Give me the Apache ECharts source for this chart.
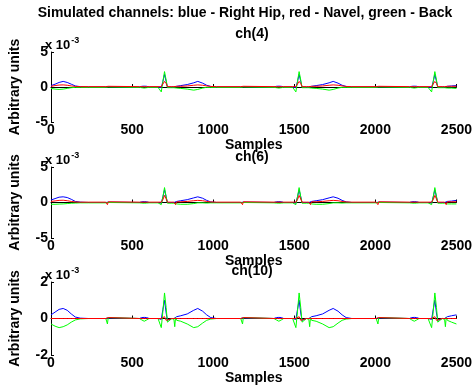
<!DOCTYPE html>
<html>
<head>
<meta charset="utf-8">
<script src="https://cdn.jsdelivr.net/npm/echarts@6/dist/echarts.min.js"></script>
<style>html,body{margin:0;padding:0;background:#fff}#c{width:475px;height:391px}</style>
</head>
<body>
<div id="c"></div>
<script>
// Sample positions shared by all traces (values in units of 1e-3)
const X = [
  0, 25, 50, 75, 100, 125, 150, 180, 230,
  338, 343, 348, 353, 360,
  545, 560, 575, 590, 605,
  660, 680, 690, 700, 710, 718, 728, 745, 758, 763, 768, 775,
  800, 840, 880, 905, 935, 960, 985, 1020,
  1170, 1176, 1181, 1186, 1193,
  1375, 1390, 1405, 1420, 1435,
  1490, 1510, 1520, 1530, 1540, 1548, 1558, 1575, 1590, 1595, 1600, 1607,
  1635, 1675, 1715, 1740, 1770, 1795, 1820, 1855,
  2005, 2011, 2016, 2021, 2028,
  2210, 2225, 2240, 2255, 2270,
  2325, 2347, 2357, 2367, 2377, 2385, 2395, 2412, 2427, 2432, 2437, 2444,
  2470, 2500
];

// ch(4)
const ch4Blue = [
  0.2, 0.4, 0.65, 0.8, 0.65, 0.4, 0.15, 0.05, 0,
  0, 0.1, -0.1, 0.05, 0,
  0, 0.1, 0.12, 0.1, 0,
  0, -0.1, 0.8, 1.8, 0.8, 0, -0.1, 0, 0, 0.1, -0.05, 0.1,
  0.2, 0.35, 0.6, 0.8, 0.55, 0.25, 0.08, 0,
  0, 0.1, -0.1, 0.05, 0,
  0, 0.1, 0.12, 0.1, 0,
  0, -0.1, 0.8, 1.8, 0.8, 0, -0.1, 0, 0, 0.1, -0.05, 0.1,
  0.2, 0.35, 0.6, 0.8, 0.55, 0.25, 0.08, 0,
  0, 0.1, -0.1, 0.05, 0,
  0, 0.1, 0.12, 0.1, 0,
  0, -0.1, 0.8, 1.8, 0.8, 0, -0.1, 0, 0, 0.1, -0.05, 0.1,
  0.15, 0.2
];
const ch4Green = [
  -0.2, -0.3, -0.35, -0.3, -0.2, -0.1, -0.05, -0.05, -0.05,
  -0.05, 0.1, -0.2, 0, -0.05,
  -0.05, -0.1, -0.15, -0.1, -0.05,
  -0.05, -0.7, 0.8, 2.2, 1.0, -0.1, -0.15, -0.1, -0.1, -0.3, 0, -0.15,
  -0.2, -0.3, -0.45, -0.35, -0.15, -0.05, -0.05, -0.05,
  -0.05, 0.1, -0.2, 0, -0.05,
  -0.05, -0.1, -0.15, -0.1, -0.05,
  -0.05, -0.7, 0.8, 2.2, 1.0, -0.1, -0.15, -0.1, -0.1, -0.3, 0, -0.15,
  -0.2, -0.3, -0.45, -0.35, -0.15, -0.05, -0.05, -0.05,
  -0.05, 0.1, -0.2, 0, -0.05,
  -0.05, -0.1, -0.15, -0.1, -0.05,
  -0.05, -0.7, 0.8, 2.2, 1.0, -0.1, -0.15, -0.1, -0.1, -0.3, 0, -0.15,
  -0.15, -0.2
];
const ch4Red = [
  0.1, 0.2, 0.28, 0.3, 0.25, 0.15, 0.08, 0.05, 0.05,
  0.05, 0.2, -0.15, 0.1, 0.05,
  0.05, 0.05, 0.05, 0.05, 0.05,
  0.05, 0.05, 0.3, 0.8, 0.5, 0.05, 0, 0.05, 0.05, 0.2, -0.15, 0.1,
  0.1, 0.15, 0.25, 0.3, 0.25, 0.15, 0.08, 0.05,
  0.05, 0.2, -0.15, 0.1, 0.05,
  0.05, 0.05, 0.05, 0.05, 0.05,
  0.05, 0.05, 0.3, 0.8, 0.5, 0.05, 0, 0.05, 0.05, 0.2, -0.15, 0.1,
  0.1, 0.15, 0.25, 0.3, 0.25, 0.15, 0.08, 0.05,
  0.05, 0.2, -0.15, 0.1, 0.05,
  0.05, 0.05, 0.05, 0.05, 0.05,
  0.05, 0.05, 0.3, 0.8, 0.5, 0.05, 0, 0.05, 0.05, 0.2, -0.15, 0.1,
  0.1, 0.1
];

// ch(6)
const ch6Blue = [
  0.35, 0.55, 0.75, 0.8, 0.7, 0.45, 0.15, 0.05, 0,
  0, 0.1, -0.1, 0.05, 0,
  0, 0.1, 0.12, 0.1, 0,
  0, -0.1, 0.8, 1.8, 0.8, 0, -0.1, 0, 0, 0.1, -0.05, 0.15,
  0.25, 0.4, 0.65, 0.8, 0.6, 0.3, 0.08, 0,
  0, 0.1, -0.1, 0.05, 0,
  0, 0.1, 0.12, 0.1, 0,
  0, -0.1, 0.8, 1.8, 0.8, 0, -0.1, 0, 0, 0.1, -0.05, 0.15,
  0.25, 0.4, 0.65, 0.8, 0.6, 0.3, 0.08, 0,
  0, 0.1, -0.1, 0.05, 0,
  0, 0.1, 0.12, 0.1, 0,
  0, -0.1, 0.8, 1.8, 0.8, 0, -0.1, 0, 0, 0.1, -0.05, 0.15,
  0.2, 0.3
];
const ch6Green = [
  -0.25, -0.25, -0.22, -0.2, -0.15, -0.1, -0.08, -0.05, -0.05,
  -0.05, 0.05, -0.2, 0, -0.05,
  -0.05, -0.08, -0.1, -0.08, -0.05,
  -0.05, -0.3, 0.8, 2.1, 0.8, -0.1, -0.15, -0.1, -0.1, -0.3, 0, -0.2,
  -0.25, -0.25, -0.15, -0.05, -0.05, -0.08, -0.05, -0.05,
  -0.05, 0.05, -0.2, 0, -0.05,
  -0.05, -0.08, -0.1, -0.08, -0.05,
  -0.05, -0.3, 0.8, 2.1, 0.8, -0.1, -0.15, -0.1, -0.1, -0.3, 0, -0.2,
  -0.25, -0.25, -0.15, -0.05, -0.05, -0.08, -0.05, -0.05,
  -0.05, 0.05, -0.2, 0, -0.05,
  -0.05, -0.08, -0.1, -0.08, -0.05,
  -0.05, -0.3, 0.8, 2.1, 0.8, -0.1, -0.15, -0.1, -0.1, -0.3, 0, -0.2,
  -0.2, -0.2
];
const ch6Red = [
  0.15, 0.22, 0.3, 0.32, 0.25, 0.15, 0.08, 0.05, 0.05,
  0.05, 0.1, -0.3, 0.1, 0.05,
  0.05, 0.05, 0.05, 0.05, 0.05,
  0.05, 0.05, 0.4, 1.0, 0.5, 0.05, 0, 0.05, 0.05, 0.1, -0.3, 0.1,
  0.1, 0.15, 0.25, 0.3, 0.25, 0.15, 0.08, 0.05,
  0.05, 0.1, -0.3, 0.1, 0.05,
  0.05, 0.05, 0.05, 0.05, 0.05,
  0.05, 0.05, 0.4, 1.0, 0.5, 0.05, 0, 0.05, 0.05, 0.1, -0.3, 0.1,
  0.1, 0.15, 0.25, 0.3, 0.25, 0.15, 0.08, 0.05,
  0.05, 0.1, -0.3, 0.1, 0.05,
  0.05, 0.05, 0.05, 0.05, 0.05,
  0.05, 0.05, 0.4, 1.0, 0.5, 0.05, 0, 0.05, 0.05, 0.1, -0.3, 0.1,
  0.1, 0.1
];

// ch(10)
const ch10Blue = [
  0.2, 0.35, 0.5, 0.55, 0.45, 0.25, 0.08, 0.02, 0,
  0, 0.05, -0.05, 0.03, 0,
  0, 0.05, 0.06, 0.05, 0,
  0, -0.05, 0.5, 1.0, 0.3, -0.1, -0.05, 0, 0, 0.1, -0.05, 0.1,
  0.15, 0.25, 0.45, 0.55, 0.4, 0.2, 0.05, 0,
  0, 0.05, -0.05, 0.03, 0,
  0, 0.05, 0.06, 0.05, 0,
  0, -0.05, 0.5, 1.0, 0.3, -0.1, -0.05, 0, 0, 0.1, -0.05, 0.1,
  0.15, 0.25, 0.45, 0.55, 0.4, 0.2, 0.05, 0,
  0, 0.05, -0.05, 0.03, 0,
  0, 0.05, 0.06, 0.05, 0,
  0, -0.05, 0.5, 1.0, 0.3, -0.1, -0.05, 0, 0, 0.1, -0.05, 0.1,
  0.15, 0.2
];
const ch10Green = [
  -0.3, -0.42, -0.5, -0.45, -0.35, -0.2, -0.08, -0.02, 0,
  0, 0.1, -0.3, 0.05, 0,
  0, -0.08, -0.15, -0.08, 0,
  0, -0.5, 0.4, 1.4, 0.6, -0.2, -0.1, 0, -0.05, -0.45, 0.05, -0.1,
  -0.15, -0.3, -0.5, -0.45, -0.25, -0.1, -0.03, 0,
  0, 0.1, -0.3, 0.05, 0,
  0, -0.08, -0.15, -0.08, 0,
  0, -0.5, 0.4, 1.4, 0.6, -0.2, -0.1, 0, -0.05, -0.45, 0.05, -0.1,
  -0.15, -0.3, -0.5, -0.45, -0.25, -0.1, -0.03, 0,
  0, 0.1, -0.3, 0.05, 0,
  0, -0.08, -0.15, -0.08, 0,
  0, -0.5, 0.4, 1.4, 0.6, -0.2, -0.1, 0, -0.05, -0.45, 0.05, -0.1,
  -0.2, -0.3
];
const ch10Red = [
  0, 0, 0, 0, 0, 0, 0, 0, 0,
  0, 0.08, -0.08, 0.05, 0,
  0, 0, 0, 0, 0,
  0, 0, 0.05, 0.1, -0.1, -0.15, -0.05, 0, 0, 0.1, -0.1, 0,
  0, 0, 0, 0, 0, 0, 0, 0,
  0, 0.08, -0.08, 0.05, 0,
  0, 0, 0, 0, 0,
  0, 0, 0.05, 0.1, -0.1, -0.15, -0.05, 0, 0, 0.1, -0.1, 0,
  0, 0, 0, 0, 0, 0, 0, 0,
  0, 0.08, -0.08, 0.05, 0,
  0, 0, 0, 0, 0,
  0, 0, 0.05, 0.1, -0.1, -0.15, -0.05, 0, 0, 0.1, -0.1, 0,
  0, 0
];

const xTicks = [0, 500, 1000, 1500, 2000, 2500];
const panelNames = ['ch(4)', 'ch(6)', 'ch(10)'];
const yRanges = [[-5, 5, 5], [-5, 5, 5], [-2, 2, 2]];
const mainTitle = 'Simulated channels: blue - Right Hip, red - Navel, green - Back';
const xName = 'Samples';
const yName = 'Arbitrary units';
const panels = [
  {blue: ch4Blue, red: ch4Red, green: ch4Green},
  {blue: ch6Blue, red: ch6Red, green: ch6Green},
  {blue: ch10Blue, red: ch10Red, green: ch10Green}
];

const FONT = '"Liberation Sans", Arial, sans-serif';
const gridTops = [52, 167, 282];
const gridHeights = [70, 71, 73];
const panelTitleY = [34, 157, 271];
const expY = [45, 160, 275];
const L = 45, W = 414;

const zip = ys => X.map((x, i) => [x, ys[i]]);

const grids = [], xAxes = [], yAxes = [], series = [], graphics = [];
panels.forEach((p, k) => {
  grids.push({left: L, top: gridTops[k], width: W, height: gridHeights[k]});
  xAxes.push({
    type: 'value', gridIndex: k, min: 0, max: 2500, interval: 500,
    name: xName, nameLocation: 'middle', nameGap: 15,
    nameTextStyle: {fontFamily: FONT, fontWeight: 'bold', fontSize: 14, color: '#000'},
    axisLine: {lineStyle: {color: '#000', width: 1}},
    axisTick: {inside: true, length: 3, lineStyle: {color: '#000'}},
    axisLabel: {fontFamily: FONT, fontWeight: 'bold', fontSize: 14, color: '#000', margin: 1,
      formatter: v => xTicks.indexOf(v) >= 0 ? String(v) : ''},
    splitLine: {show: false}
  });
  const yr = yRanges[k];
  yAxes.push({
    type: 'value', gridIndex: k, min: yr[0], max: yr[1], interval: yr[2],
    name: yName, nameLocation: 'middle', nameGap: 29, nameRotate: 90,
    nameTextStyle: {fontFamily: FONT, fontWeight: 'bold', fontSize: 14, color: '#000'},
    axisLine: {show: true, lineStyle: {color: '#000', width: 1}},
    axisTick: {show: true, inside: true, length: 3, lineStyle: {color: '#000'}},
    axisLabel: {fontFamily: FONT, fontWeight: 'bold', fontSize: 14, color: '#000', margin: 3},
    splitLine: {show: false}
  });
  [['blue', '#0000ff'], ['green', '#00ff00'], ['red', '#ff0000']].forEach(([key, col]) => {
    series.push({
      type: 'line', xAxisIndex: k, yAxisIndex: k, data: zip(p[key]),
      showSymbol: false, symbol: 'none', lineStyle: {color: col, width: 1},
      itemStyle: {color: col}, silent: true, z: 3
    });
  });
  graphics.push({
    type: 'text', x: L + W / 2, y: panelTitleY[k],
    style: {text: panelNames[k], font: 'bold 14px ' + FONT, fill: '#000',
      textAlign: 'center', textVerticalAlign: 'middle'}
  });
  graphics.push({
    type: 'text', x: L, y: expY[k],
    style: {
      text: '{a|x 10}{b|-3}', textVerticalAlign: 'middle',
      rich: {
        a: {font: 'bold 13px ' + FONT, fill: '#000'},
        b: {font: 'bold 9px ' + FONT, fill: '#000', padding: [0, 0, 8, 1]}
      }
    }
  });
});
graphics.push({
  type: 'text', x: 245, y: 13,
  style: {text: mainTitle, font: 'bold 14px ' + FONT, fill: '#000',
    textAlign: 'center', textVerticalAlign: 'middle'}
});

const chart = echarts.init(document.getElementById('c'), null, {renderer: 'canvas'});
chart.setOption({
  animation: false,
  backgroundColor: '#fff',
  grid: grids, xAxis: xAxes, yAxis: yAxes, series: series, graphic: graphics
});
</script>
</body>
</html>
